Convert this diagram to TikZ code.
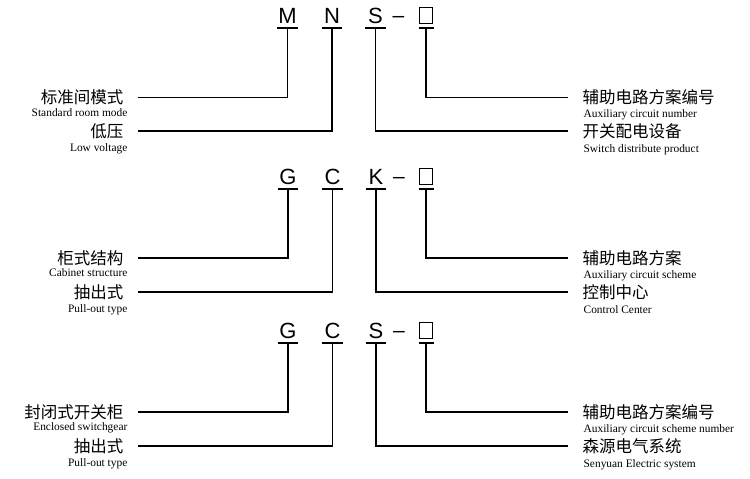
\documentclass[tikz,border=0pt]{standalone}
\usepackage{fontspec}
\setmainfont{Liberation Serif}
\newfontfamily\cjk{Noto Sans CJK SC}
\newfontfamily\letters{Liberation Sans}

\begin{document}
\begin{tikzpicture}[x=1pt, y=-1pt, line width=1.3pt]
  \tikzstyle{Letter} = [font=\letters\fontsize{22}{22}\selectfont,
			inner xsep = 0pt,
			inner ysep = 3.5pt,
			text depth = 0pt,
			minimum width = 19pt,
			anchor = south]
  \tikzstyle{Dash} = [font=\letters\fontsize{21}{21}\selectfont, inner sep = 0pt, anchor = base]
  \tikzstyle{Blank} = [draw, line width = 0.9pt, inner sep = 0pt,
			minimum width = 13.5pt, minimum height = 16pt]
  \tikzstyle{CnLeft} = [font=\cjk\fontsize{16.5}{16.5}\selectfont,
			inner xsep = 14pt, inner ysep = 0pt, anchor = east]
  \tikzstyle{CnRight} = [CnLeft, anchor = west]
  \tikzstyle{EnLeft} = [font=\fontsize{11.4}{11.4}\selectfont, inner sep = 0pt, anchor = base east]
  \tikzstyle{EnRight} = [EnLeft, anchor = base west]
\useasboundingbox (0,0) rectangle (750,479);

% MNS
\node[Letter] (M1) at (287.5,28) {M};
\node[Letter] (N1) at (332,28) {N};
\node[Letter] (S1) at (375.5,28) {S};
\node[Dash] (D1) at (398.5,22) {–};
\node[Blank] (B1) at (426,15.5) {};
\coordinate (B1u) at (426,28);
\node[CnLeft] (L11) at (138,97.5) {标准间模式};
\node[EnLeft] (E11) at (128,116) {Standard room mode};
\node[CnLeft] (L12) at (138,131) {低压};
\node[EnLeft] (E12) at (128,151.5) {Low voltage};
\node[CnRight] (R11) at (568,97.5) {辅助电路方案编号};
\node[EnRight] (F11) at (583,117.5) {Auxiliary circuit number};
\node[CnRight] (R12) at (568,131) {开关配电设备};
\node[EnRight] (F12) at (583,152.5) {Switch distribute product};
\draw (M1.south west) -- (M1.south east);
\draw (N1.south west) -- (N1.south east);
\draw (S1.south west) -- (S1.south east);
\draw ([xshift=-7.5pt]B1u) -- ([xshift=7.5pt]B1u);
\draw (M1.south) |- (L11.east);
\draw (N1.south) |- (L12.east);
\draw (B1u) |- (R11.west);
\draw (S1.south) |- (R12.west);

% GCK
\node[Letter] (G2) at (288,189) {G};
\node[Letter] (C2) at (332.5,189) {C};
\node[Letter] (K2) at (376,189) {K};
\node[Dash] (D2) at (399,183) {–};
\node[Blank] (B2) at (426,176.5) {};
\coordinate (B2u) at (426,189);
\node[CnLeft] (L21) at (138,258) {柜式结构};
\node[EnLeft] (E21) at (128,276.5) {Cabinet structure};
\node[CnLeft] (L22) at (138,292) {抽出式};
\node[EnLeft] (E22) at (128,312.5) {Pull-out type};
\node[CnRight] (R21) at (568,258) {辅助电路方案};
\node[EnRight] (F21) at (583,278) {Auxiliary circuit scheme};
\node[CnRight] (R22) at (568,292) {控制中心};
\node[EnRight] (F22) at (583,313.5) {Control Center};
\draw (G2.south west) -- (G2.south east);
\draw (C2.south west) -- (C2.south east);
\draw (K2.south west) -- (K2.south east);
\draw ([xshift=-7.5pt]B2u) -- ([xshift=7.5pt]B2u);
\draw (G2.south) |- (L21.east);
\draw (C2.south) |- (L22.east);
\draw (B2u) |- (R21.west);
\draw (K2.south) |- (R22.west);

% GCS
\node[Letter] (G3) at (288,343) {G};
\node[Letter] (C3) at (332.5,343) {C};
\node[Letter] (S3) at (376,343) {S};
\node[Dash] (D3) at (399,337) {–};
\node[Blank] (B3) at (426,330.5) {};
\coordinate (B3u) at (426,343);
\node[CnLeft] (L31) at (138,412) {封闭式开关柜};
\node[EnLeft] (E31) at (128,430.5) {Enclosed switchgear};
\node[CnLeft] (L32) at (138,446) {抽出式};
\node[EnLeft] (E32) at (128,466.5) {Pull-out type};
\node[CnRight] (R31) at (568,412) {辅助电路方案编号};
\node[EnRight] (F31) at (583,432) {Auxiliary circuit scheme number};
\node[CnRight] (R32) at (568,446) {森源电气系统};
\node[EnRight] (F32) at (583,467.5) {Senyuan Electric system};
\draw (G3.south west) -- (G3.south east);
\draw (C3.south west) -- (C3.south east);
\draw (S3.south west) -- (S3.south east);
\draw ([xshift=-7.5pt]B3u) -- ([xshift=7.5pt]B3u);
\draw (G3.south) |- (L31.east);
\draw (C3.south) |- (L32.east);
\draw (B3u) |- (R31.west);
\draw (S3.south) |- (R32.west);

\end{tikzpicture}
\end{document}
